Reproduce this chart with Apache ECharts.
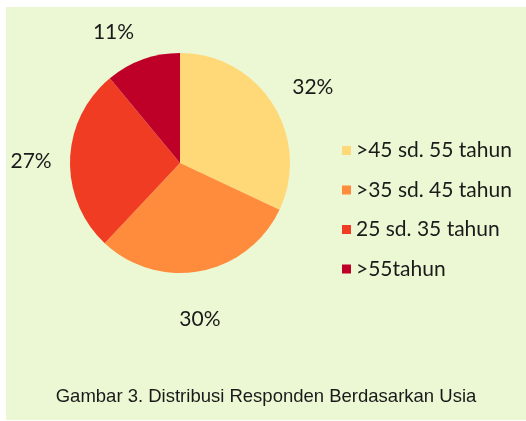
<!DOCTYPE html>
<html>
<head>
<meta charset="utf-8">
<script src="https://cdn.jsdelivr.net/npm/echarts@6/dist/echarts.min.js"></script>
<style>
  html, body { margin: 0; padding: 0; background: #ffffff; }
  #main { position: absolute; left: 6px; top: 7px; width: 520px; height: 413px; }
</style>
</head>
<body>
<div id="main"></div>
<script>
// kelompok usia responden (urutan searah jarum jam dari atas)
var categories = ['>45 sd. 55 tahun', '>35 sd. 45 tahun', '25 sd. 35 tahun', '>55tahun'];
var values = [32, 30, 27, 11];
var colors = ['#ffd878', '#ff8c3c', '#f03c23', '#be0028'];
var caption = 'Gambar 3. Distribusi Responden Berdasarkan Usia';

// geser label sedikit seperti penempatan label di Excel
var labelShift = [[7, 4], [-8, 10], [0, 3], [-16, 9]];

var chart = echarts.init(document.getElementById('main'));

var pieData = categories.map(function (name, i) {
    return { name: name, value: values[i], itemStyle: { color: colors[i] } };
});

// ring transparan hanya untuk menaruh label persen di luar pie
var labelData = categories.map(function (name, i) {
    return { name: name, value: values[i], label: { offset: labelShift[i] } };
});

var option = {
    backgroundColor: '#ebf8d3',
    animation: false,
    title: {
        text: caption,
        left: 'center',
        top: 375,
        textStyle: {
            fontFamily: 'Liberation Sans',
            fontSize: 18.5,
            fontWeight: 'normal',
            color: '#1a1a1a'
        }
    },
    legend: {
        orient: 'vertical',
        left: 331,
        top: 128,
        icon: 'rect',
        itemWidth: 9,
        itemHeight: 9,
        itemGap: 18.5,
        data: categories,
        textStyle: {
            fontFamily: 'Lato',
            fontSize: 21,
            lineHeight: 20,
            color: '#1a1a1a'
        }
    },
    series: [
        {
            type: 'pie',
            center: [174, 156],
            radius: [0, 110],
            startAngle: 90,
            clockwise: true,
            silent: true,
            label: { show: false },
            labelLine: { show: false },
            itemStyle: { borderWidth: 0 },
            data: pieData
        },
        {
            type: 'pie',
            center: [174, 156],
            radius: [136, 156],
            startAngle: 90,
            clockwise: true,
            silent: true,
            itemStyle: { color: 'rgba(0,0,0,0)', borderWidth: 0 },
            label: {
                show: true,
                position: 'inside',
                formatter: '{c}%',
                fontFamily: 'Lato',
                fontSize: 21,
                color: '#1a1a1a'
            },
            labelLine: { show: false },
            data: labelData
        }
    ]
};

chart.setOption(option);
</script>
</body>
</html>
